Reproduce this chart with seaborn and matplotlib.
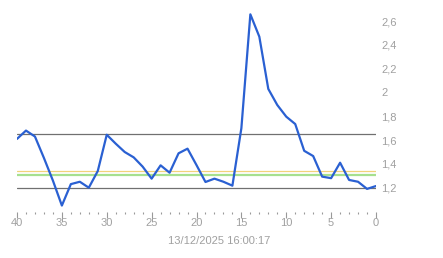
import matplotlib
matplotlib.use("Agg")
import matplotlib.pyplot as plt
from matplotlib.ticker import MultipleLocator, FuncFormatter
import seaborn as sns
import pandas as pd

sns.set_style("white")
plt.rcParams['font.family'] = ['Liberation Sans', 'DejaVu Sans']

minutes = list(range(40, -1, -1))
values = [1.61, 1.68, 1.63, 1.45, 1.26, 1.05, 1.23, 1.25, 1.20, 1.34,
          1.645, 1.57, 1.50, 1.455, 1.377, 1.276, 1.388, 1.326, 1.489, 1.528,
          1.39, 1.248, 1.276, 1.25, 1.217, 1.70, 2.657, 2.469, 2.03, 1.895,
          1.797, 1.735, 1.51, 1.466, 1.293, 1.28, 1.41, 1.265, 1.25, 1.19, 1.214]
upper_ref = 1.65
lower_ref = 1.20
yellow_ref = 1.338
green_ref = 1.31
timestamp = "13/12/2025 16:00:17"

df = pd.DataFrame({"t": minutes, "v": values})

fig = plt.figure(figsize=(4.43, 2.58), dpi=100)
ax = fig.add_axes([17/443, (258-211.5)/258, 359/443, (211.5-9.2)/258])

ax.axhline(upper_ref, color="#707070", lw=0.9, zorder=1)
ax.axhline(lower_ref, color="#707070", lw=0.9, zorder=1)
ax.axhline(yellow_ref, color="#f2d27a", lw=0.9, zorder=1)
ax.axhline(green_ref, color="#a6e08e", lw=1.6, zorder=1)
sns.lineplot(data=df, x="t", y="v", ax=ax, color="#2a60d2", lw=1.6, zorder=3)

ax.set_xlim(40, 0)
ax.set_ylim(1.0, 2.7)
for s in ax.spines.values():
    s.set_visible(False)

ax.xaxis.set_major_locator(MultipleLocator(5))
ax.xaxis.set_minor_locator(MultipleLocator(1))
ax.tick_params(axis="x", which="both", bottom=True, direction="out")
ax.tick_params(axis="x", which="major", length=4, width=0.8, color="#999999",
               labelcolor="#a0a0a0", labelsize=8, pad=1)
ax.tick_params(axis="x", which="minor", length=1.5, width=0.8, color="#999999")

ax.yaxis.tick_right()
ax.set_yticks([1.2, 1.4, 1.6, 1.8, 2.0, 2.2, 2.4, 2.6])
ax.yaxis.set_major_formatter(FuncFormatter(lambda v, p: f"{v:g}".replace(".", ",")))
ax.tick_params(axis="y", length=0, labelcolor="#a0a0a0", labelsize=8, pad=4)
ax.set_xlabel("")
ax.set_ylabel("")

fig.text(219.5/443, 1 - 241/258, timestamp, ha="center", va="center",
         color="#a0a0a0", fontsize=8)

fig.savefig("out.png", dpi=100)
